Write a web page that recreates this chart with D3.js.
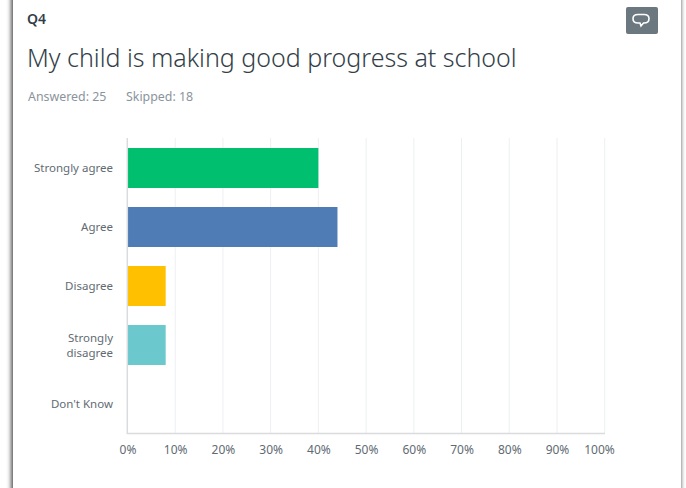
<!DOCTYPE html>
<html><head><meta charset="utf-8">
<script src="https://cdnjs.cloudflare.com/ajax/libs/d3/7.8.5/d3.min.js"></script>
<style>html,body{margin:0;padding:0;background:#fff;overflow:hidden}svg{display:block}text{font-family:"Noto Sans",sans-serif}</style>
</head><body><div id="c"></div>
<script>
const categories = ["Strongly agree","Agree","Disagree","Strongly disagree","Don't Know"];
const values = [40,44,8,8,0];
const colors = ["#00bf6f","#507cb6","#ffc000","#6bc8cd","#dddddd"];
const ticks = [0,10,20,30,40,50,60,70,80,90,100];
const W=686,H=488;
const svg=d3.select("#c").append("svg").attr("width",W).attr("height",H);
const defs=svg.append("defs");
const f=defs.append("filter").attr("id","s").attr("x","-5%").attr("y","-5%").attr("width","110%").attr("height","110%");
f.append("feGaussianBlur").attr("stdDeviation",2.2);
svg.append("rect").attr("x",11).attr("y",-20).attr("width",670).attr("height",H+40).attr("fill","#555").attr("filter","url(#s)");
svg.append("rect").attr("x",13).attr("y",-20).attr("width",668).attr("height",H+40).attr("fill","#fff");
svg.append("text").attr("x",27).attr("y",24).attr("font-size",14).attr("font-weight",600).attr("fill","#333e48").text("Q4");
svg.append("text").attr("x",27).attr("y",67).attr("font-size",25).attr("font-weight",300).attr("fill","#333e48").text("My child is making good progress at school");
svg.append("text").attr("x",28).attr("y",101).attr("font-size",12.4).attr("fill","#8a949c").text("Answered: 25");
svg.append("text").attr("x",126).attr("y",101).attr("font-size",12.4).attr("fill","#8a949c").text("Skipped: 18");
const btn=svg.append("g");
btn.append("rect").attr("x",626).attr("y",7).attr("width",32).attr("height",27).attr("rx",2).attr("fill","#6b787f");
btn.append("path").attr("d","M638 14.5h6q5 0 5 4.2q0 4.3-5 4.3h-0.5l-2.5 3l-1-3h-2q-5 0-5-4.3q0-4.2 5-4.2z").attr("fill","none").attr("stroke","#fff").attr("stroke-width",1.6);
const x=d3.scaleLinear().domain([0,100]).range([127.5,604.7]);
const y=d3.scaleBand().domain(categories).range([138.5,433.5]).paddingInner(19/59).paddingOuter(9.5/59);
const g=svg.append("g");
g.selectAll("line.g").data(ticks.slice(1)).join("line").attr("class","g")
 .attr("x1",d=>x(d)).attr("x2",d=>x(d)).attr("y1",138).attr("y2",433).attr("stroke","#eeeff0").attr("stroke-width",1);
g.selectAll("rect.b").data(categories).join("rect").attr("class","b")
 .attr("x",x(0)).attr("y",d=>y(d)).attr("height",y.bandwidth())
 .attr("width",(d,i)=>x(values[i])-x(0)).attr("fill",(d,i)=>colors[i]);
g.append("line").attr("x1",127.3).attr("x2",127.3).attr("y1",138).attr("y2",434).attr("stroke","#d9dbdd").attr("stroke-width",1.5);
g.append("line").attr("x1",127).attr("x2",605).attr("y1",433.5).attr("y2",433.5).attr("stroke","#d9dbdd").attr("stroke-width",1.5);
g.selectAll("text.t").data(ticks).join("text").attr("class","t")
 .attr("x",d=>d===100?599.5:x(d)+0.5).attr("y",454).attr("text-anchor","middle").attr("font-size",12).attr("fill","#5f6b73").text(d=>d+"%");
categories.forEach(c=>{
  const cy=y(c)+y.bandwidth()/2;
  const lines=c==="Strongly disagree"?["Strongly","disagree"]:[c];
  lines.forEach((l,i)=>{
    svg.append("text").attr("x",113).attr("y",cy+4+(i-(lines.length-1)/2)*15).attr("text-anchor","end").attr("font-size",11.5).attr("fill","#5f6b73").text(l);
  });
});
</script></body></html>
